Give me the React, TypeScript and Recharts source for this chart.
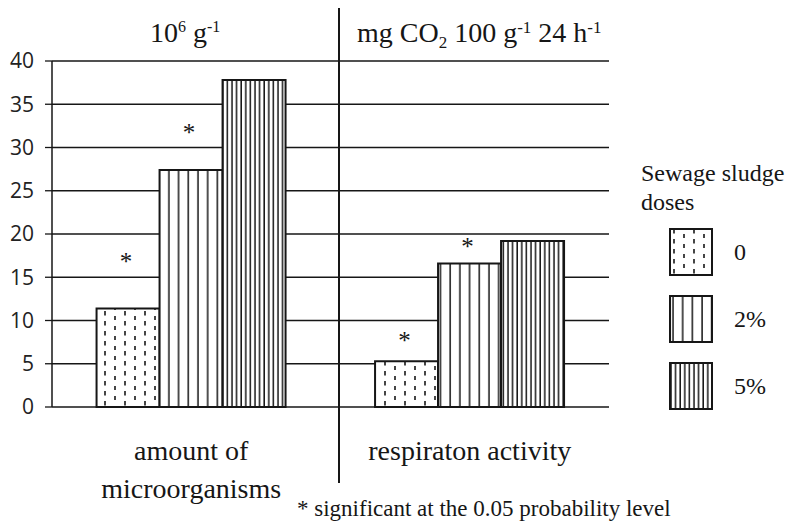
import { BarChart, Bar, XAxis, YAxis, CartesianGrid, Legend, LabelList } from 'recharts';

const categories = ['amount of\nmicroorganisms', 'respiraton activity'];
const doseNames = ['0', '2%', '5%'];
const dose0 = [11.4, 5.3];
const dose2 = [27.4, 16.6];
const dose5 = [37.8, 19.2];
// y level of the "*" marks (in axis units)
const star0 = [17.2, 8.1];
const star2 = [32.1, 19.0];
const yTicks = [0, 5, 10, 15, 20, 25, 30, 35, 40];

const data = categories.map((name, i) => ({
    name,
    d0: dose0[i],
    d2: dose2[i],
    d5: dose5[i],
    s0: star0[i],
    s2: star2[i],
}));

const serif = '"Liberation Serif", "Times New Roman", serif';
const ink = '#161616';

const Patterns = () => (
    <svg width={0} height={0} style={{ position: 'absolute' }}>
        <defs>
            <pattern id="dose0" patternUnits="userSpaceOnUse" width={20} height={10}>
                <rect width={20} height={10} fill="#fff" />
                <line x1={5} y1={1} x2={5} y2={5.5} stroke={ink} strokeWidth={1.6} />
                <line x1={15} y1={6} x2={15} y2={10.5} stroke={ink} strokeWidth={1.6} />
            </pattern>
            <pattern id="dose2" patternUnits="userSpaceOnUse" width={9.7} height={10}>
                <rect width={9.7} height={10} fill="#fff" />
                <line x1={4} y1={0} x2={4} y2={10} stroke={ink} strokeWidth={1.5} />
            </pattern>
            <pattern id="dose5" patternUnits="userSpaceOnUse" width={4.6} height={10}>
                <rect width={4.6} height={10} fill="#fff" />
                <line x1={2} y1={0} x2={2} y2={10} stroke={ink} strokeWidth={1.5} />
            </pattern>
        </defs>
    </svg>
);

const makeStar = (values: number[]) => (props: any) => {
    const box = props.viewBox ?? props;
    const { x, y, width, height } = box;
    const index = props.index;
    const level = props.value;
    if (level == null || index == null) return null;
    const perUnit = height / values[index];
    const cy = y + height - level * perUnit;
    return (
        <text x={x + width / 2 - 2} y={cy} dy={12} textAnchor="middle" fontFamily={serif} fontSize={25} fill={ink}>
            *
        </text>
    );
};

const CategoryTick = ({ x, y, payload }: any) => {
    const lines = String(payload.value).split('\n');
    return (
        <text x={x} y={y} textAnchor="middle" fontFamily={serif} fontSize={28} fill={ink}>
            {lines.map((l, i) => (
                <tspan key={i} x={x} dy={i === 0 ? 53 : 38}>
                    {l}
                </tspan>
            ))}
        </text>
    );
};

const DoseLegend = ({ payload }: any) => (
    <div style={{ fontFamily: serif, color: ink }}>
        <div style={{ fontSize: 24, lineHeight: '29px' }}>
            Sewage sludge
            <br />
            doses
        </div>
        {(payload ?? []).map((e: any, i: number) => (
            <div
                key={i}
                style={{
                    display: 'flex',
                    alignItems: 'center',
                    marginTop: i === 0 ? 11 : 19,
                    marginLeft: 28,
                }}
            >
                <svg width={44} height={48}>
                    <rect x={1} y={1} width={42} height={46} fill={e.color} stroke={ink} strokeWidth={2} />
                </svg>
                <span style={{ marginLeft: 21, fontSize: 24 }}>{e.value}</span>
            </div>
        ))}
    </div>
);

export default function App() {
    return (
        <div style={{ position: 'absolute', left: 0, top: 0, width: 788, height: 524, background: '#fff' }}>
            <Patterns />
            <BarChart
                width={788}
                height={524}
                data={data}
                margin={{ top: 61, right: 179, bottom: 0, left: 0 }}
                barCategoryGap="16%"
                barGap={0}
            >
                <CartesianGrid yAxisId="left" vertical={false} stroke={ink} strokeWidth={1.3} />
                <XAxis
                    dataKey="name"
                    height={117}
                    axisLine={false}
                    tickLine={false}
                    tickSize={0}
                    tickMargin={0}
                    interval={0}
                    tick={<CategoryTick />}
                />
                <YAxis
                    yAxisId="left"
                    width={52}
                    domain={[0, 40]}
                    ticks={yTicks}
                    interval={0}
                    axisLine={{ stroke: ink, strokeWidth: 1.5 }}
                    tickLine={{ stroke: ink, strokeWidth: 1.3 }}
                    tickSize={7}
                    tickMargin={11}
                    tick={{ fontFamily: '"Open Sans", sans-serif', fontSize: 21, fill: '#222' }}
                />
                <YAxis
                    yAxisId="right"
                    orientation="right"
                    width={0}
                    domain={[0, 40]}
                    tick={false}
                    tickLine={false}
                    axisLine={{ stroke: ink, strokeWidth: 1.5 }}
                />
                <Legend
                    layout="horizontal"
                    align="center"
                    verticalAlign="middle"
                    content={<DoseLegend />}
                    wrapperStyle={{ left: 641, top: 159, width: 147 }}
                />
                <Bar yAxisId="left" dataKey="d0" name={doseNames[0]} fill="url(#dose0)" stroke={ink} strokeWidth={2} isAnimationActive={false}>
                    <LabelList dataKey="s0" content={makeStar(dose0)} />
                </Bar>
                <Bar yAxisId="left" dataKey="d2" name={doseNames[1]} fill="url(#dose2)" stroke={ink} strokeWidth={2} isAnimationActive={false}>
                    <LabelList dataKey="s2" content={makeStar(dose2)} />
                </Bar>
                <Bar yAxisId="left" dataKey="d5" name={doseNames[2]} fill="url(#dose5)" stroke={ink} strokeWidth={2} isAnimationActive={false} />
            </BarChart>
            <svg
                width={788}
                height={524}
                style={{ position: 'absolute', left: 0, top: 0, pointerEvents: 'none' }}
            >
                <line x1={339} y1={8} x2={339} y2={483} stroke={ink} strokeWidth={2} />
                <text x={150} y={42} fontFamily={serif} fontSize={28} fill={ink}>
                    10
                    <tspan fontSize={16} dy={-10}>6</tspan>
                    <tspan dy={10}> g</tspan>
                    <tspan fontSize={16} dy={-10}>-1</tspan>
                </text>
                <text x={357} y={42} fontFamily={serif} fontSize={28} fill={ink}>
                    mg CO
                    <tspan fontSize={17} dy={6}>2</tspan>
                    <tspan dy={-6}> 100 g</tspan>
                    <tspan fontSize={17} dy={-9}>-1</tspan>
                    <tspan dy={9}> 24 h</tspan>
                    <tspan fontSize={17} dy={-9}>-1</tspan>
                </text>
                <text x={297} y={516} fontFamily={serif} fontSize={23} fill={ink}>
                    * significant at the 0.05 probability level
                </text>
            </svg>
        </div>
    );
}
